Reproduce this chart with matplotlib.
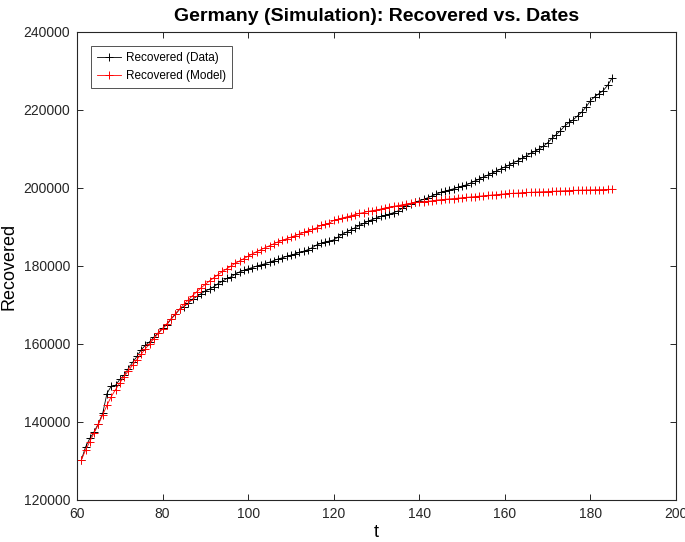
import matplotlib
matplotlib.use("Agg")
import matplotlib.pyplot as plt

plt.rcParams['font.family'] = ['Liberation Sans', 'DejaVu Sans']

days = list(range(61, 186))

recovered_data = [
    130200, 133600, 135800, 137500, 139600, 142200, 147300, 149200, 149400, 150900,
    152000, 153700, 155300, 156800, 158500, 159700, 160600, 161800, 162900, 164000,
    165000, 166400, 167600, 168900, 169600, 170500, 171500, 172200, 172900, 173600,
    174100, 174700, 175500, 176100, 176800, 177200, 177900, 178500, 178900, 179300,
    179600, 180000, 180300, 180600, 181000, 181400, 181800, 182100, 182500, 182800,
    183100, 183500, 183800, 184200, 184700, 185400, 185800, 186200, 186400, 186700,
    187400, 188100, 188700, 189300, 189800, 190400, 190900, 191500, 191900, 192300,
    192700, 193000, 193300, 193700, 194100, 194800, 195400, 195900, 196400, 196700,
    197100, 197500, 198000, 198400, 198900, 199200, 199500, 199800, 200200, 200500,
    200800, 201300, 201800, 202300, 202800, 203300, 203800, 204300, 204900, 205400,
    205900, 206500, 207000, 207600, 208200, 208900, 209400, 210000, 210700, 211600,
    212700, 213700, 214700, 215900, 216800, 217500, 218500, 219500, 220800, 222400,
    223400, 224200, 225000, 226300, 228100,
]

recovered_model = [
    130200, 132800, 135000, 137200, 139400, 141800, 144300, 146500, 148300, 150000,
    151600, 153100, 154600, 156000, 157400, 158800, 160100, 161400, 162700, 163900,
    165200, 166500, 167800, 169000, 170200, 171300, 172400, 173400, 174400, 175300,
    176200, 177000, 177800, 178600, 179300, 180000, 180700, 181300, 181900, 182500,
    183100, 183700, 184200, 184700, 185200, 185700, 186200, 186600, 187000, 187400,
    187800, 188200, 188600, 189000, 189400, 189800, 190400, 190700, 191000, 191700,
    192000, 192300, 192600, 192900, 193200, 193500, 193700, 194000, 194200, 194400,
    194600, 194900, 195100, 195300, 195500, 195700, 195900, 196100, 196300, 196400,
    196500, 196600, 196700, 196900, 197000, 197100, 197200, 197300, 197400, 197500,
    197600, 197700, 197800, 197900, 198000, 198100, 198200, 198300, 198400, 198500,
    198600, 198650, 198700, 198800, 198850, 198900, 198950, 199000, 199050, 199100,
    199150, 199200, 199250, 199300, 199350, 199400, 199430, 199460, 199490, 199520,
    199550, 199580, 199600, 199630, 199660,
]

x_ticks = [60, 80, 100, 120, 140, 160, 180, 200]
y_ticks = [120000, 140000, 160000, 180000, 200000, 220000, 240000]

fig = plt.figure(figsize=(6.85, 5.42), dpi=100)
ax = fig.add_axes([77/685, 42/542, 599/685, 468/542])

ax.plot(days, recovered_data, color='black', lw=0.6, marker='+', ms=6, mew=0.7,
        label='Recovered (Data)')
ax.plot(days, recovered_model, color='red', lw=0.6, marker='+', ms=6, mew=0.7,
        label='Recovered (Model)')

ax.set_xlim(60, 200)
ax.set_ylim(120000, 240000)
ax.set_xticks(x_ticks)
ax.set_yticks(y_ticks)
ax.set_xticklabels([str(v) for v in x_ticks])
ax.set_yticklabels([str(v) for v in y_ticks])
ax.tick_params(direction='in', top=True, right=True, length=4, width=0.7,
               labelsize=10, colors='#262626', pad=5)
for s in ax.spines.values():
    s.set_color('#262626')
    s.set_linewidth(0.8)

ax.set_title('Germany (Simulation): Recovered vs. Dates', fontsize=14,
             fontweight='bold', pad=8)
ax.set_xlabel('t', fontsize=13, labelpad=2)
ax.set_ylabel('Recovered', fontsize=13, labelpad=4)

leg = ax.legend(loc='upper left', bbox_to_anchor=(14/599, 1 - 14/468),
                borderaxespad=0, fontsize=8.5, frameon=True, fancybox=False,
                handlelength=2.0, handletextpad=0.45, labelspacing=0.55,
                borderpad=0.5)
leg.get_frame().set_edgecolor('#262626')
leg.get_frame().set_linewidth(0.7)

fig.savefig('out.png', dpi=100)
